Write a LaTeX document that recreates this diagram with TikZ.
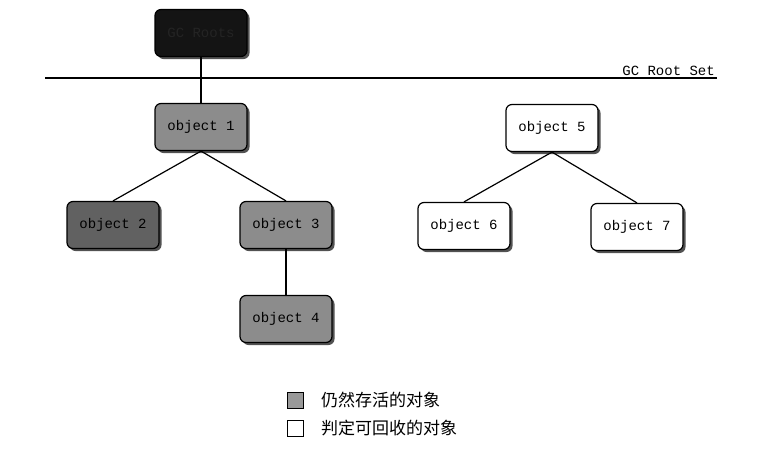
\documentclass[tikz,border=0pt]{standalone}
\usepackage{fontspec}
\setmonofont{Liberation Mono}
\newfontfamily\cjk{Noto Sans CJK SC}
\usepackage{tikz}
\usetikzlibrary{shadows}

\begin{document}
\begin{tikzpicture}[
        x=1pt, y=-1pt,
        obj/.style = {draw, line width=1.2pt, rounded corners=6pt, minimum width=92pt, minimum height=47pt,
                      font=\ttfamily\fontsize{14}{16}\selectfont,
                      drop shadow={shadow xshift=2.5pt, shadow yshift=-2.5pt, fill=black!75, opacity=0.9}},
        alive/.style = {obj, fill=black!45},
        alivedark/.style = {obj, fill=black!62},
        dead/.style = {obj, fill=white},
        link/.style = {line width=1.2pt},
        legendbox/.style = {draw, line width=1pt, minimum size=16pt, inner sep=0pt},
        legendtext/.style = {anchor=west, font=\cjk\fontsize{17}{19}\selectfont}
    ]
    \useasboundingbox[fill=white] (0,0) rectangle (761,448);

    % root at the top
    \node[obj, fill=black!92, text=black!86] (root) at (201,33) {GC Roots};

    % GC Root Set line
    \coordinate (setL) at (45,78);
    \coordinate (setR) at (717,78);
    \draw[line width=1.2pt] (setL) -- (setR);
    \node[above left, inner sep=2pt, font=\ttfamily\fontsize{14}{16}\selectfont] at (setR) {GC Root Set};

    % objects still reachable
    \node[alive] (obj1) at (201,127) {object 1};
    \node[alivedark] (obj2) at (113,225) {object 2};
    \node[alive] (obj3) at (286,225) {object 3};
    \node[alive] (obj4) at (286,319) {object 4};

    % objects to be collected
    \node[dead] (obj5) at (552,128) {object 5};
    \node[dead] (obj6) at (464,226) {object 6};
    \node[dead] (obj7) at (637,227) {object 7};

    % Draw links
    \draw[link] (root) -- (obj1);
    \draw[link] (obj1.south) -- (obj2.north);
    \draw[link] (obj1.south) -- (obj3.north);
    \draw[link] (obj3) -- (obj4);
    \draw[link] (obj5.south) -- (obj6.north);
    \draw[link] (obj5.south) -- (obj7.north);

    % legend
    \node[legendbox, fill=black!40] (keyalive) at (295,400) {};
    \node[legendbox, fill=white] (keydead) at (295,428) {};
    \node[legendtext] at ([xshift=14pt]keyalive.east) {仍然存活的对象};
    \node[legendtext] at ([xshift=14pt]keydead.east) {判定可回收的对象};

\end{tikzpicture}
\end{document}
